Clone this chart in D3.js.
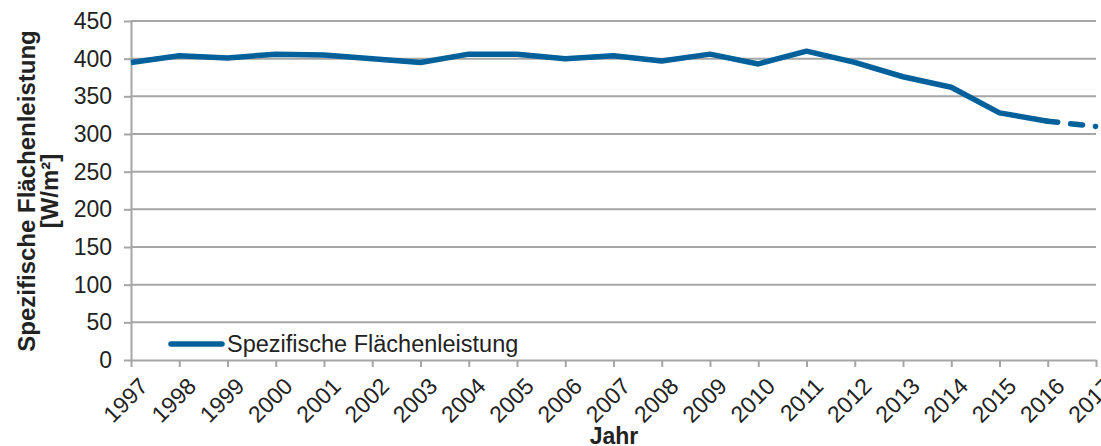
<html>
  <head>
    <meta charset="utf-8">
    <script src="https://d3js.org/d3.v7.min.js"></script>
    <style>
      body { margin: 0; background: white; font-family: "Liberation Sans", Arial, sans-serif; }
      .grid line { stroke: #a6a6a6; stroke-width: 2; }
      .axis path, .axis line { stroke: #a6a6a6; stroke-width: 2; }
      .axis text { font-size: 23px; fill: #222; font-family: "Liberation Sans", Arial, sans-serif; }
    </style>
  </head>
  <body>
    <svg width="1101" height="446"></svg>
    <script>
      // data
      var years = [1997, 1998, 1999, 2000, 2001, 2002, 2003, 2004, 2005, 2006, 2007,
                   2008, 2009, 2010, 2011, 2012, 2013, 2014, 2015, 2016, 2017];
      var values = [395, 404, 401, 406, 405, 400, 395, 406, 406, 400, 404,
                    397, 406, 393, 410, 395, 376, 362, 328, 317, 310];
      var yTicks = [0, 50, 100, 150, 200, 250, 300, 350, 400, 450];
      var lastSolid = 2016; // after this the line is a forecast (dashed)

      var svg = d3.select("svg");
      var mLeft = 131, mRight = 1096, mTop = 21, mBottom = 360;
      var blue = "#02609b";

      var x = d3.scaleLinear().domain([1997, 2017]).range([mLeft, mRight]);
      var y = d3.scaleLinear().domain([0, 450]).range([mBottom, mTop]);

      // horizontal gridlines
      svg.append("g").attr("class", "grid")
        .selectAll("line").data(yTicks.filter(function(d){ return d > 0; }))
        .enter().append("line")
        .attr("x1", mLeft).attr("x2", mRight)
        .attr("y1", function(d){ return y(d); })
        .attr("y2", function(d){ return y(d); });

      // y axis
      svg.append("g").attr("class", "axis")
        .attr("transform", "translate(" + mLeft + ",0)")
        .call(d3.axisLeft(y).tickValues(yTicks).tickSize(7).tickPadding(12).tickSizeOuter(0));

      // x axis
      var xAxis = svg.append("g").attr("class", "axis")
        .attr("transform", "translate(0," + mBottom + ")")
        .call(d3.axisBottom(x).tickValues(years).tickFormat(d3.format("d")).tickSize(7).tickSizeOuter(0));
      xAxis.selectAll("text")
        .attr("text-anchor", "end")
        .attr("dy", "0.35em")
        .attr("transform", "translate(5,15) rotate(-45)");

      var line = d3.line()
        .x(function(d){ return x(d[0]); })
        .y(function(d){ return y(d[1]); });

      var pts = years.map(function(yr, i){ return [yr, values[i]]; });

      svg.append("path")
        .datum(pts.filter(function(d){ return d[0] <= lastSolid; }))
        .attr("d", line)
        .attr("fill", "none")
        .attr("stroke", blue)
        .attr("stroke-width", 5.5)
        .attr("stroke-linejoin", "round");

      svg.append("path")
        .datum(pts.filter(function(d){ return d[0] >= lastSolid; }))
        .attr("d", line)
        .attr("fill", "none")
        .attr("stroke", blue)
        .attr("stroke-width", 5.5)
        .attr("stroke-linecap", "round")
        .attr("stroke-dasharray", "10,13,12,13,0.1,30");

      // legend
      svg.append("line")
        .attr("x1", 171).attr("x2", 222).attr("y1", 344).attr("y2", 344)
        .attr("stroke", blue).attr("stroke-width", 5.5).attr("stroke-linecap", "round");
      svg.append("text")
        .attr("x", 227).attr("y", 352)
        .style("font-size", "23.5px").style("fill", "#222")
        .text("Spezifische Flächenleistung");

      // axis titles
      var yt = svg.append("text")
        .attr("transform", "translate(35,191) rotate(-90)")
        .attr("text-anchor", "middle")
        .style("font-size", "24px").style("font-weight", "bold").style("fill", "#222");
      yt.append("tspan").attr("x", 0).attr("y", 0).text("Spezifische Flächenleistung");
      yt.append("tspan").attr("x", 0).attr("y", 23).text("[W/m²]");

      svg.append("text")
        .attr("x", 614).attr("y", 444)
        .attr("text-anchor", "middle")
        .style("font-size", "23px").style("font-weight", "bold").style("fill", "#222")
        .text("Jahr");
    </script>
  </body>
</html>
